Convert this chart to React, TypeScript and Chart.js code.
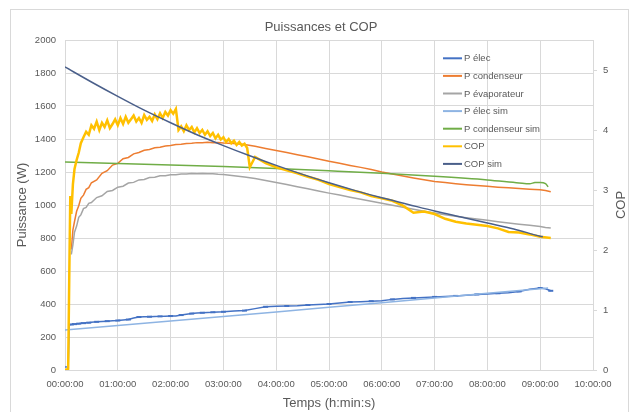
import React, { useEffect, useRef } from 'react';
import { Chart, registerables } from 'chart.js';

Chart.register(...registerables);

const FONT = '"Liberation Sans", Arial, sans-serif';
const TEXT = '#595959';
const GRID = '#d9d9d9';

const chartTitle = 'Puissances et COP';
const xTitle = 'Temps (h:min:s)';
const yTitle = 'Puissance (W)';
const y2Title = 'COP';

const seriesLabels = ['P élec', 'P condenseur', 'P évaporateur', 'P élec sim', 'P condenseur sim', 'COP', 'COP sim'];

// measured time (hours)
const tMeas = [
  0, 0.06, 0.08, 0.1, 0.12, 0.15, 0.18, 0.22, 0.26, 0.3, 0.35, 0.4, 0.45, 0.5, 0.6, 0.7, 0.8, 0.9, 1.0,
  1.1, 1.2, 1.3, 1.4, 1.5, 1.6, 1.7, 1.8, 1.9, 2.0, 2.1, 2.2, 2.3, 2.4, 2.5, 2.6, 2.7, 2.8, 2.9, 3.0,
  3.2, 3.4, 3.6, 3.8, 4.0, 4.2, 4.4, 4.6, 4.8, 5.0, 5.2, 5.4, 5.6, 5.8, 6.0, 6.2, 6.4, 6.6, 6.8, 7.0,
  7.2, 7.4, 7.6, 7.8, 8.0, 8.2, 8.4, 8.6, 8.8, 9.0, 9.1, 9.2,
];

const pElec = [
  18, 20, 270, 275, 276, 278, 278, 280, 281, 283, 284, 286, 287, 290, 292, 294, 296, 298, 300,
  303, 306, 315, 321, 322, 323, 324, 325, 326, 327, 328, 333, 338, 342, 345, 347, 349, 350, 352, 353,
  357, 360, 372, 383, 386, 388, 390, 394, 397, 400, 406, 412, 414, 417, 420, 428, 434, 437, 440, 443,
  446, 449, 453, 458, 461, 465, 468, 476, 489, 497, 492, 480,
];

const pCond = [
  null, null, null, null, 730, 850, 900, 962, 995, 1040, 1060, 1095, 1105, 1135, 1152, 1192, 1208, 1242, 1252,
  1280, 1288, 1310, 1318, 1332, 1336, 1347, 1350, 1358, 1360, 1366, 1368, 1373, 1374, 1378, 1377, 1380, 1378, 1379, 1376,
  1373, 1366, 1356, 1343, 1330, 1318, 1305, 1292, 1279, 1265, 1253, 1240, 1228, 1215, 1200, 1188, 1176, 1164, 1153, 1143,
  1136, 1129, 1123, 1118, 1113, 1108, 1104, 1100, 1096, 1093, 1088, 1080,
];

const pEvap = [
  null, null, null, null, 700, 760, 835, 872, 925, 940, 978, 985, 1010, 1015, 1045, 1056, 1082, 1088, 1108,
  1114, 1133, 1137, 1152, 1155, 1167, 1168, 1177, 1178, 1184, 1184, 1188, 1188, 1191, 1190, 1191, 1189, 1189, 1186, 1185,
  1178, 1170, 1160, 1149, 1137, 1124, 1111, 1098, 1085, 1072, 1060, 1047, 1035, 1023, 1010, 998, 986, 974, 962, 951,
  941, 932, 923, 915, 907, 899, 891, 884, 877, 870, 864, 860,
];

// measured COP (own, denser time base)
const tCop = [
  0, 0.06, 0.08, 0.1, 0.12, 0.15, 0.18, 0.22, 0.26, 0.3,
  0.35, 0.4, 0.45, 0.5, 0.55, 0.6, 0.65, 0.7, 0.75, 0.8, 0.85, 0.9, 0.95, 1.0,
  1.05, 1.1, 1.15, 1.2, 1.25, 1.3, 1.35, 1.4, 1.45, 1.5, 1.55, 1.6, 1.65, 1.7, 1.75, 1.8, 1.85, 1.9, 1.95, 2.0,
  2.05, 2.1, 2.15, 2.2, 2.25, 2.3, 2.35, 2.4, 2.45, 2.5, 2.55, 2.6, 2.65, 2.7, 2.75, 2.8, 2.85, 2.9, 2.95, 3.0,
  3.05, 3.1, 3.15, 3.2, 3.25, 3.3, 3.35, 3.4, 3.45, 3.5,
  3.6, 3.8, 4.0, 4.2, 4.4, 4.6, 4.8, 5.0, 5.2, 5.4, 5.6, 5.8, 6.0, 6.2, 6.4, 6.6, 6.8, 7.0, 7.2, 7.4,
  7.6, 7.8, 8.0, 8.2, 8.4, 8.6, 8.8, 9.0, 9.2,
];

const cop = [
  0, 0.02, 1.5, 2.9, 2.6, 3.1, 3.35, 3.5, 3.62, 3.78,
  3.88, 3.97, 3.92, 4.08, 4.02, 4.14, 4.0, 4.12, 4.05, 4.16, 4.03, 4.1, 4.18, 4.08,
  4.2, 4.1, 4.22, 4.12, 4.18, 4.24, 4.14, 4.2, 4.12, 4.25, 4.17, 4.22, 4.15, 4.26, 4.18, 4.28, 4.2, 4.3, 4.24, 4.33,
  4.27, 4.35, 4.0, 4.06, 3.98, 4.08, 4.0, 4.05, 3.96, 4.03, 3.95, 4.0, 3.92, 3.98, 3.9, 3.95, 3.86, 3.92, 3.84, 3.88,
  3.8, 3.85, 3.78, 3.82, 3.75, 3.8, 3.74, 3.77, 3.7, 3.38,
  3.55, 3.45, 3.38, 3.33, 3.28, 3.22, 3.17, 3.1, 3.05, 3.0, 2.96, 2.9, 2.86, 2.82, 2.74, 2.62, 2.64, 2.6, 2.52, 2.47,
  2.44, 2.42, 2.4, 2.36, 2.3, 2.29, 2.26, 2.22, 2.2,
];

// simulations
const tElecSim = [0, 1, 2, 3, 4, 5, 6, 7, 8, 9, 9.15];
const pElecSim = [242, 270, 297, 324, 352, 380, 408, 437, 465, 493, 497];

const tCondSim = [0, 1, 2, 3, 4, 5, 6, 7, 8, 8.6, 8.8, 8.9, 9.0, 9.1, 9.15];
const pCondSim = [1260, 1252, 1243, 1233, 1221, 1207, 1192, 1174, 1152, 1134, 1129, 1136, 1137, 1130, 1110];

const tCopSim = [0, 0.5, 1, 1.5, 2, 2.5, 3, 3.5, 4, 4.5, 5, 5.5, 6, 6.5, 7, 7.5, 8, 8.5, 9, 9.05];
const copSim = [5.05, 4.8, 4.56, 4.33, 4.12, 3.92, 3.74, 3.57, 3.41, 3.26, 3.12, 2.99, 2.87, 2.76, 2.65, 2.55, 2.45, 2.35, 2.23, 2.22];

const colors = ['#4472C4', '#ED7D31', '#A5A5A5', '#8EB4E3', '#70AD47', '#FFC000', '#4A5F8A'];

const pts = (xs: number[], ys: (number | null)[]) => xs.map((x, i) => ({ x, y: ys[i] }));

const fmtHour = (v: number) => `${String(Math.round(v)).padStart(2, '0')}:00:00`;

const overlay = {
  id: 'overlay',
  beforeDraw(chart: any) {
    const { ctx, width, height } = chart;
    ctx.save();
    ctx.fillStyle = '#ffffff';
    ctx.fillRect(0, 0, width, height);
    ctx.strokeStyle = GRID;
    ctx.lineWidth = 1;
    ctx.strokeRect(10.5, 9.5, width - 14, height + 10);
    ctx.restore();
  },
  afterDraw(chart: any) {
    const { ctx, chartArea: a } = chart;
    const midY = (a.top + a.bottom) / 2;
    ctx.save();
    ctx.fillStyle = TEXT;
    ctx.textAlign = 'center';
    ctx.textBaseline = 'middle';
    ctx.font = `13px ${FONT}`;
    ctx.fillText(chartTitle, 321, 27);
    ctx.fillText(xTitle, (a.left + a.right) / 2, 403);
    ctx.save();
    ctx.translate(22, midY);
    ctx.rotate(-Math.PI / 2);
    ctx.fillText(yTitle, 0, 0);
    ctx.restore();
    ctx.save();
    ctx.translate(621, midY);
    ctx.rotate(-Math.PI / 2);
    ctx.fillText(y2Title, 0, 0);
    ctx.restore();
    // legend inside plot area
    const lx = a.left + 378;
    const ly = a.top + 18.3;
    ctx.font = `9.5px ${FONT}`;
    ctx.textAlign = 'left';
    chart.data.datasets.forEach((ds: any, i: number) => {
      const y = ly + i * 17.6;
      ctx.strokeStyle = ds.borderColor;
      ctx.lineWidth = 2;
      ctx.beginPath();
      ctx.moveTo(lx, y);
      ctx.lineTo(lx + 19, y);
      ctx.stroke();
      ctx.fillStyle = TEXT;
      ctx.fillText(ds.label, lx + 21, y + 0.5);
    });
    ctx.restore();
  },
};

export default function App() {
  const ref = useRef<HTMLCanvasElement>(null);
  useEffect(() => {
    const canvas = ref.current!;
    const tickFont = { family: FONT, size: 9.5 };
    const chart = new Chart(canvas, {
      type: 'line',
      data: {
        datasets: [
          {
            label: seriesLabels[0], data: pts(tMeas, pElec), borderColor: colors[0], backgroundColor: colors[0],
            borderWidth: 1.5, pointStyle: 'line', pointBorderWidth: 2,
            pointRadius: (c: any) => (c.dataIndex > 2 && c.dataIndex % 2 === 0 ? 2.5 : 0),
            yAxisID: 'y', order: 7,
          },
          { label: seriesLabels[1], data: pts(tMeas, pCond), borderColor: colors[1], backgroundColor: colors[1], borderWidth: 1.5, pointRadius: 0, yAxisID: 'y', order: 6 },
          { label: seriesLabels[2], data: pts(tMeas, pEvap), borderColor: colors[2], backgroundColor: colors[2], borderWidth: 1.5, pointRadius: 0, yAxisID: 'y', order: 5 },
          { label: seriesLabels[3], data: pts(tElecSim, pElecSim), borderColor: colors[3], backgroundColor: colors[3], borderWidth: 1.5, pointRadius: 0, yAxisID: 'y', order: 4 },
          { label: seriesLabels[4], data: pts(tCondSim, pCondSim), borderColor: colors[4], backgroundColor: colors[4], borderWidth: 1.5, pointRadius: 0, cubicInterpolationMode: 'monotone', yAxisID: 'y', order: 3 },
          { label: seriesLabels[5], data: pts(tCop, cop), borderColor: colors[5], backgroundColor: colors[5], borderWidth: 2.5, pointRadius: 0, yAxisID: 'y1', order: 2 },
          { label: seriesLabels[6], data: pts(tCopSim, copSim), borderColor: colors[6], backgroundColor: colors[6], borderWidth: 1.5, pointRadius: 0, cubicInterpolationMode: 'monotone', yAxisID: 'y1', order: 1 },
        ] as any,
      },
      options: {
        responsive: false,
        animation: false,
        events: [],
        layout: { padding: { top: 40, left: 0, right: 0, bottom: 0 } },
        plugins: { legend: { display: false }, title: { display: false }, tooltip: { enabled: false } },
        scales: {
          x: {
            type: 'linear', min: 0, max: 10,
            ticks: { stepSize: 1, color: TEXT, font: tickFont, padding: 9, maxRotation: 0, autoSkip: false, callback: (v: any) => fmtHour(Number(v)) },
            grid: { color: GRID, drawTicks: false },
            border: { color: GRID },
            afterFit: (s: any) => { s.height = 42; },
          },
          y: {
            type: 'linear', position: 'left', min: 0, max: 2000,
            ticks: { stepSize: 200, color: TEXT, font: tickFont, padding: 9, callback: (v: any) => String(v) },
            grid: { color: GRID, drawTicks: false },
            border: { color: GRID },
            afterFit: (s: any) => { s.width = 65; },
          },
          y1: {
            type: 'linear', position: 'right', min: 0, max: 5.5,
            ticks: { stepSize: 1, color: TEXT, font: tickFont, padding: 6, callback: (v: any) => (Number.isInteger(Number(v)) ? String(v) : null) },
            grid: { drawOnChartArea: false, color: GRID, tickLength: 4 },
            border: { color: GRID },
            afterFit: (s: any) => { s.width = 39; },
          },
        },
      } as any,
      plugins: [overlay],
    });
    return () => chart.destroy();
  }, []);
  return (
    <div style={{ position: 'fixed', left: 0, top: 0, width: 632, height: 412, background: '#fff' }}>
      <canvas ref={ref} width={632} height={412} style={{ display: 'block' }} />
    </div>
  );
}
